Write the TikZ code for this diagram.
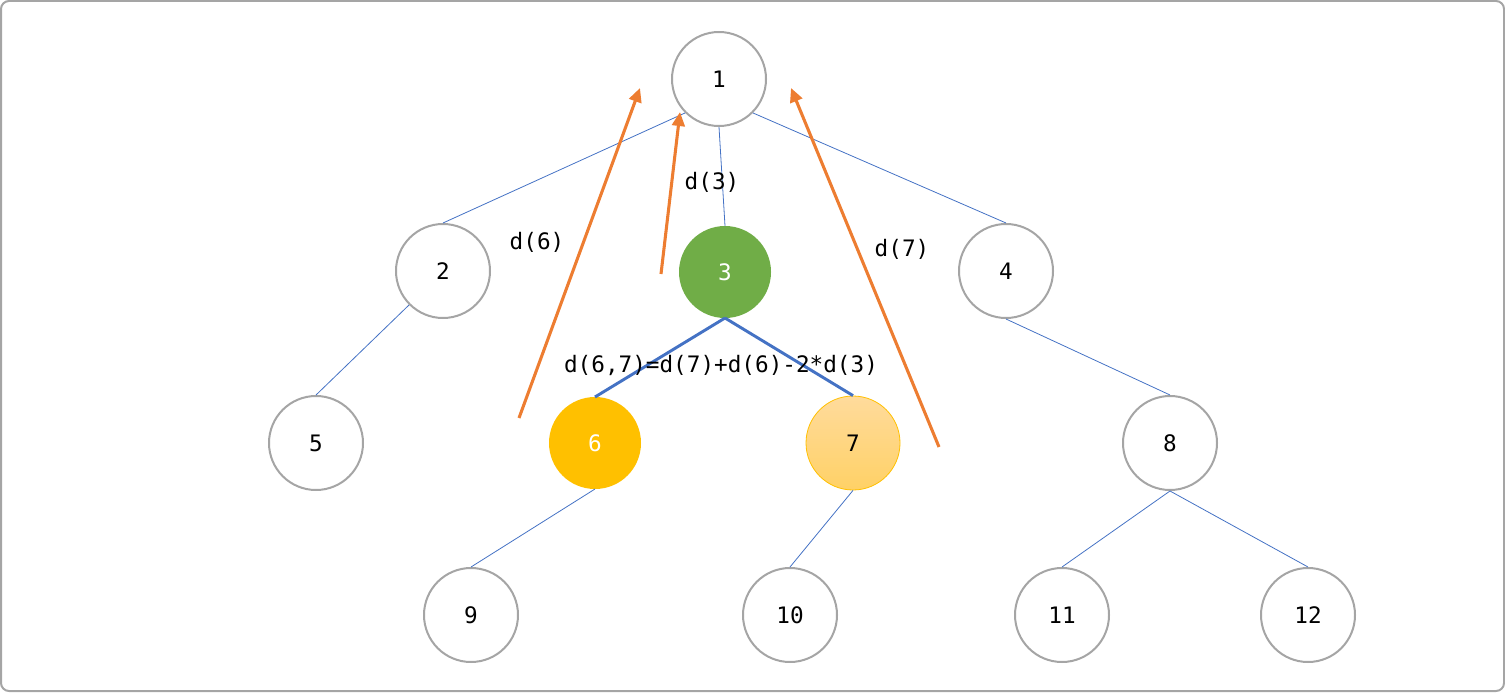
\documentclass[tikz,border=0pt]{standalone}
\usepackage{fontspec}
\setmonofont{DejaVu Sans Mono}
\usetikzlibrary{arrows.meta}
\definecolor{ringgray}{HTML}{A5A5A5}
\definecolor{edgeblue}{HTML}{4472C4}
\definecolor{arrorange}{HTML}{ED7D31}
\definecolor{lcagreen}{HTML}{70AD47}
\definecolor{gold}{HTML}{FFC000}
\definecolor{paletop}{HTML}{FFDB9C}
\definecolor{palebot}{HTML}{FFD166}
\tikzset{
  vert/.style={circle, draw=ringgray, line width=1.5pt, fill=white, minimum size=70.5pt, inner sep=0pt},
  tedge/.style={draw=edgeblue, line width=0.6pt},
  pathedge/.style={draw=edgeblue, line width=2.2pt},
  climb/.style={draw=arrorange, line width=2.3pt, -{Triangle[length=10.5pt,width=9.5pt]}},
  lbl/.style={inner sep=0pt}
}
\begin{document}
\begin{tikzpicture}[x=0.75pt,y=-0.75pt,font=\ttfamily\fontsize{17}{20}\selectfont]
\useasboundingbox (0,0) rectangle (1505,692);
\draw[ringgray, line width=1.5pt, rounded corners=6pt] (1,1) rectangle (1504,691);
\node[vert] (n1) at (719,79) {1};
\node[vert] (n2) at (443,271) {2};
\node[vert, draw=lcagreen, fill=lcagreen, text=white, minimum size=67.5pt] (n3) at (725,272) {3};
\node[vert] (n4) at (1006,271) {4};
\node[vert] (n5) at (316,443) {5};
\node[vert, draw=gold, fill=gold, text=white, minimum size=67.5pt] (n6) at (595,443) {6};
\node[vert, draw=gold, line width=0.6pt, top color=paletop, bottom color=palebot] (n7) at (853,443) {7};
\node[vert] (n8) at (1170,443) {8};
\node[vert] (n9) at (471,615) {9};
\node[vert] (n10) at (790,615) {10};
\node[vert] (n11) at (1062,615) {11};
\node[vert] (n12) at (1308,615) {12};
\draw[tedge] (n1.south west) -- (n2.north);
\draw[tedge] (n1.south) -- (n3.north);
\draw[tedge] (n1.south east) -- (n4.north);
\draw[tedge] (n2.south west) -- (n5.north);
\draw[tedge] (n4.south) -- (n8.north);
\draw[tedge] (n6.south) -- (n9.north);
\draw[tedge] (n7.south) -- (n10.north);
\draw[tedge] (n8.south) -- (n11.north);
\draw[tedge] (n8.south) -- (n12.north);
\draw[pathedge] (n3.south) -- (n6.north);
\draw[pathedge] (n3.south) -- (n7.north);
\coordinate (s6) at (519,418);
\coordinate (t6) at (640,88);
\coordinate (s3) at (661,274);
\coordinate (t3) at (680,112);
\coordinate (s7) at (939,447);
\coordinate (t7) at (791,88);
\draw[climb] (s6) -- (t6);
\draw[climb] (s3) -- (t3);
\draw[climb] (s7) -- (t7);
\node[lbl] (l6) at (537,242) {d(6)};
\node[lbl] (l3) at (712,182) {d(3)};
\node[lbl] (l7) at (902,249) {d(7)};
\node[lbl] (lf) at (721,365) {d(6,7)=d(7)+d(6)-2*d(3)};
\end{tikzpicture}
\end{document}
